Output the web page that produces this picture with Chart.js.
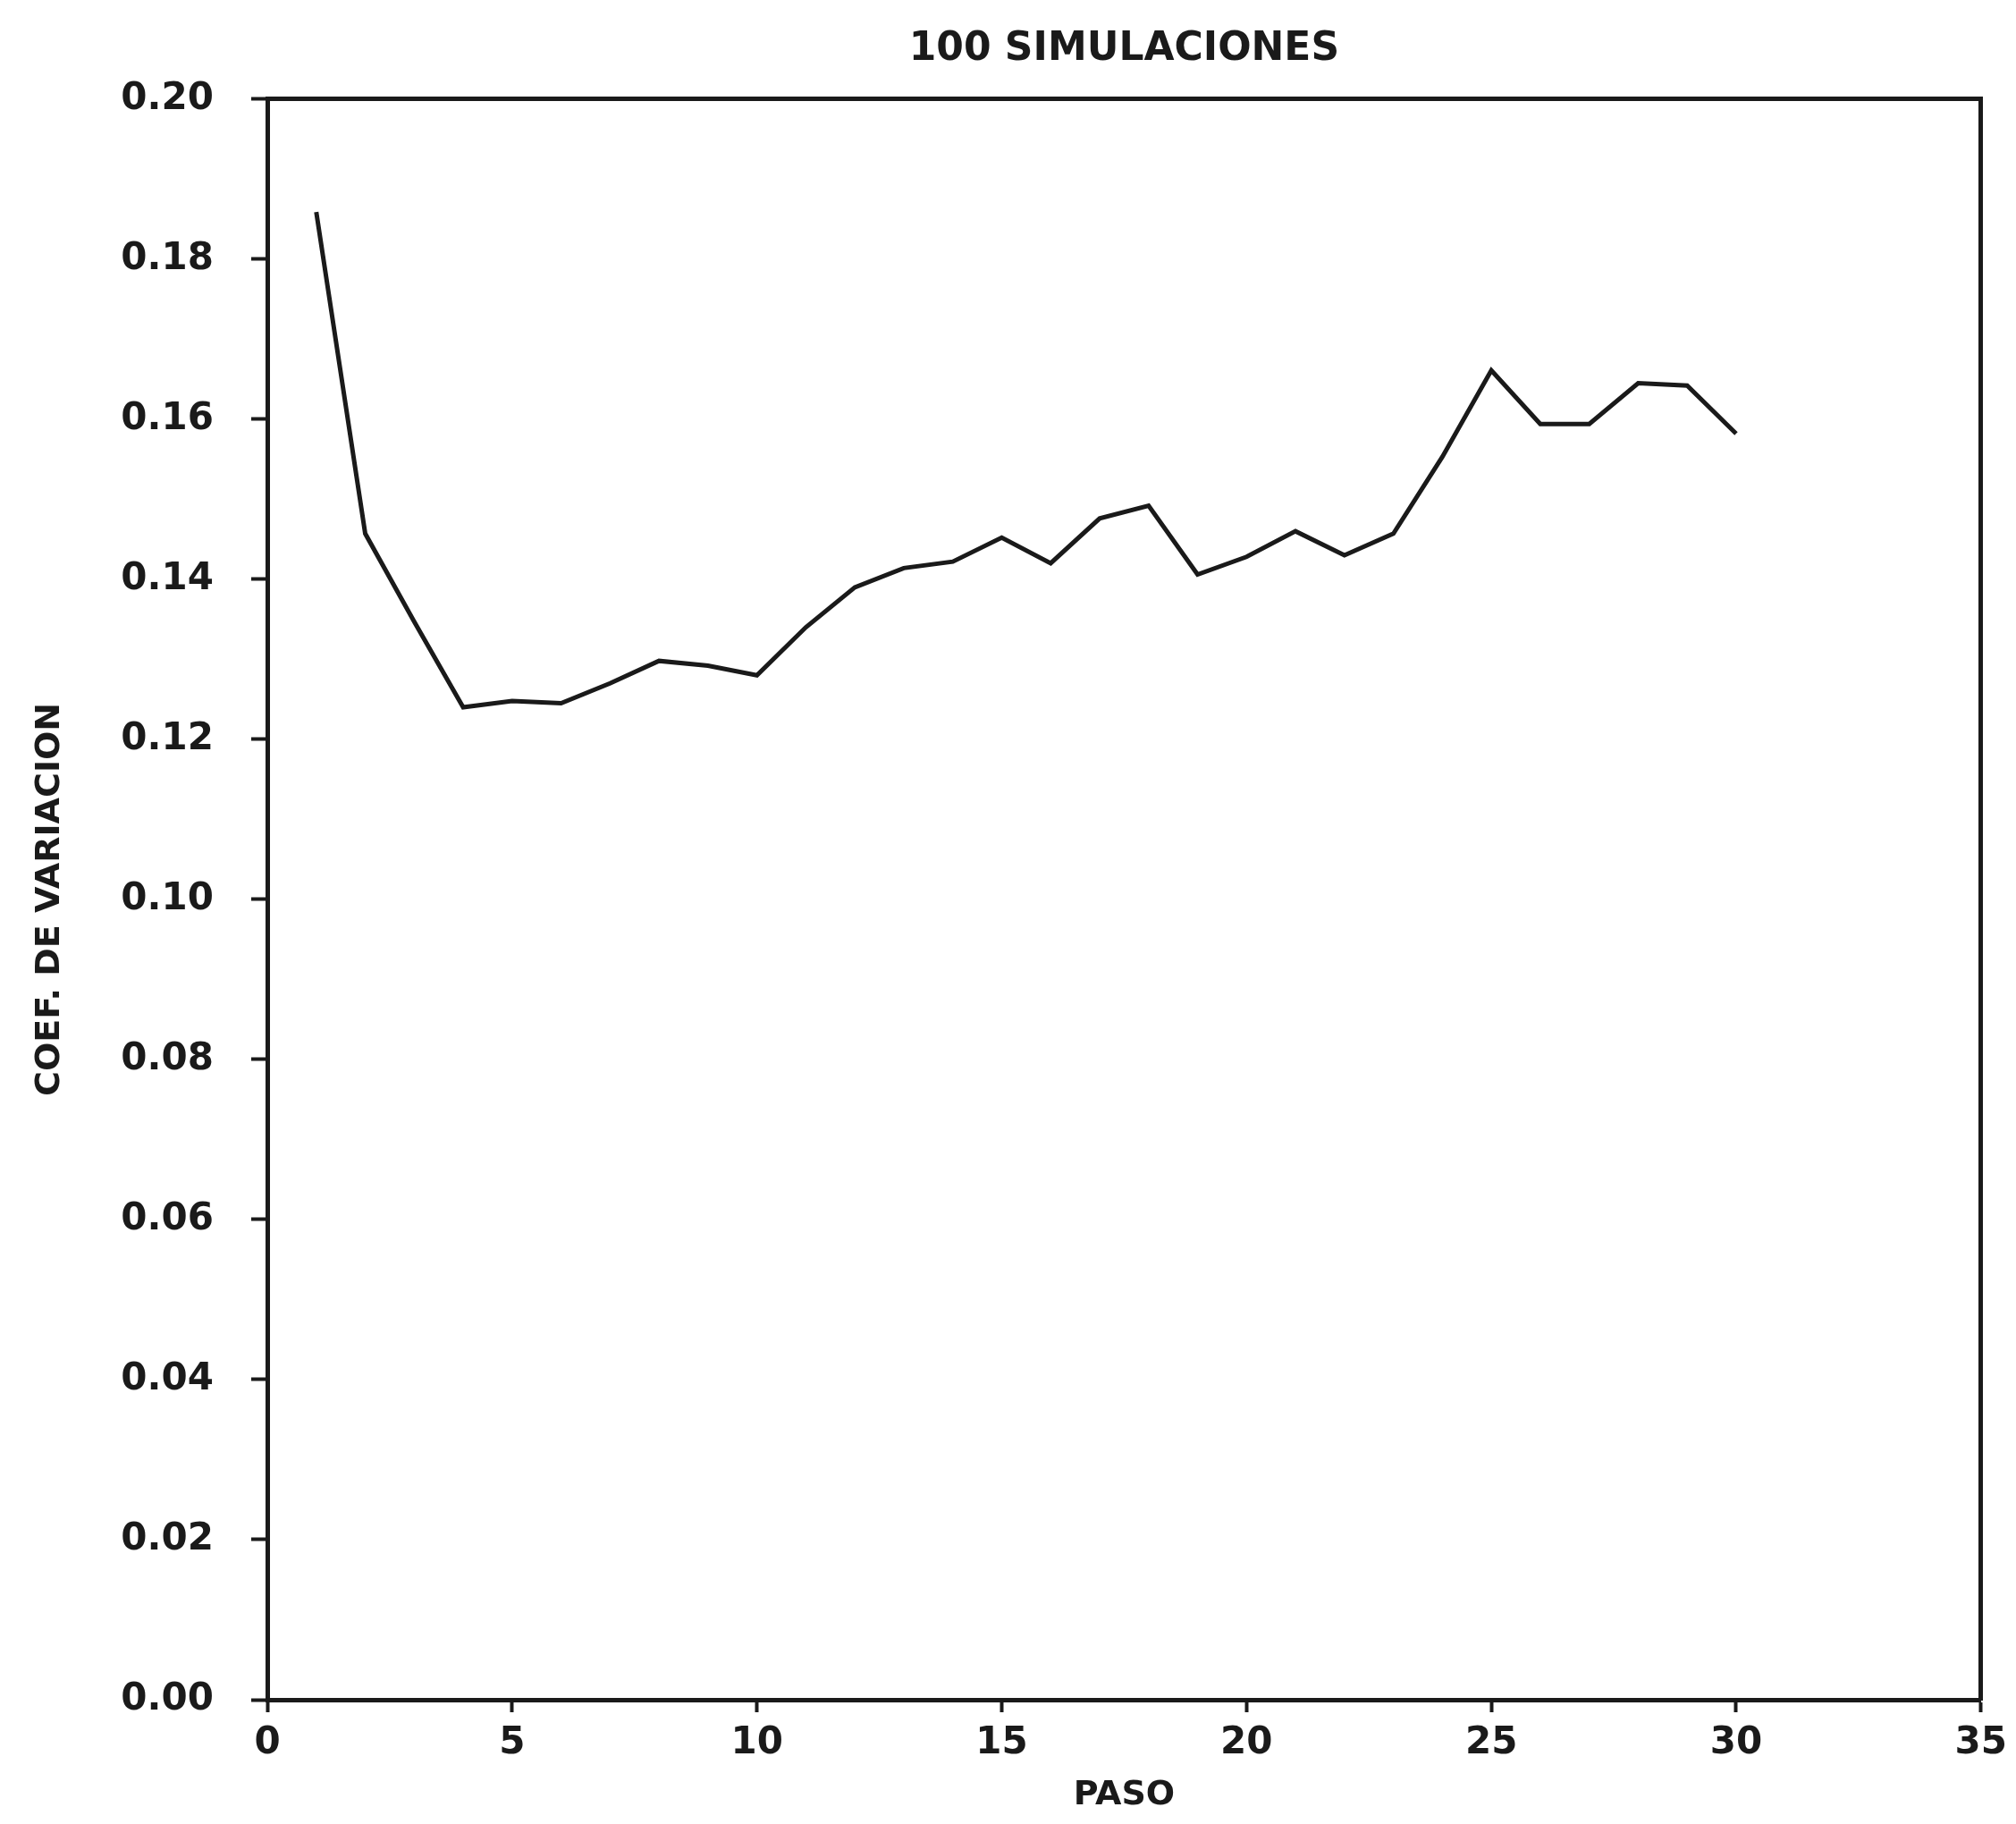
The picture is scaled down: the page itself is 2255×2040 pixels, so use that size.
<!DOCTYPE html>
<html>
<head>
<meta charset="utf-8">
<title>100 SIMULACIONES</title>
<script src="https://cdn.jsdelivr.net/npm/chart.js@4"></script>
<style>
  html, body { margin: 0; padding: 0; background: #fff; }
  canvas { display: block; }
</style>
</head>
<body>
<canvas id="cvChart" width="2255" height="2040" style="width:2255px;height:2040px"></canvas>
<script>
// pasos de la simulacion
const pasos = [1, 2, 3, 4, 5, 6, 7, 8, 9, 10,
               11, 12, 13, 14, 15, 16, 17, 18, 19, 20,
               21, 22, 23, 24, 25, 26, 27, 28, 29, 30];
// coeficiente de variacion
const coefVariacion = [0.1859, 0.1457, 0.1347, 0.1240, 0.1248, 0.1245, 0.1270, 0.1298, 0.1292, 0.1280,
                       0.1340, 0.1390, 0.1414, 0.1422, 0.1452, 0.1420, 0.1476, 0.1492, 0.1406, 0.1428,
                       0.1460, 0.1430, 0.1457, 0.1553, 0.1661, 0.1594, 0.1594, 0.1645, 0.1642, 0.1582];
const xTicks = [0, 5, 10, 15, 20, 25, 30, 35];
const yTicks = [0.00, 0.02, 0.04, 0.06, 0.08, 0.10, 0.12, 0.14, 0.16, 0.18, 0.20];

const FONT = "'DejaVu Sans', sans-serif";
const INK = '#1a1a1a';

Chart.defaults.font.family = FONT;
Chart.defaults.color = INK;

const ctx = document.getElementById('cvChart').getContext('2d');

new Chart(ctx, {
  type: 'line',
  data: {
    datasets: [{
      data: pasos.map((p, i) => ({ x: p, y: coefVariacion[i] })),
      borderColor: INK,
      borderWidth: 5,
      pointRadius: 0,
      tension: 0,
      fill: false
    }]
  },
  options: {
    responsive: false,
    animation: false,
    devicePixelRatio: 1,
    layout: { padding: 0 },
    plugins: {
      legend: { display: false },
      tooltip: { enabled: false },
      title: {
        display: true,
        fullSize: false,
        text: '100 SIMULACIONES',
        color: INK,
        font: { size: 44, weight: 'bold', family: FONT, lineHeight: 1.2 },
        padding: { top: 29, bottom: 29 }
      }
    },
    scales: {
      x: {
        type: 'linear',
        position: 'bottom',
        min: 0,
        max: 35,
        afterBuildTicks: (s) => { s.ticks = xTicks.map(v => ({ value: v })); },
        afterFit: (s) => { s.height = 139; },
        border: { display: true, color: INK, width: 5 },
        grid: { drawOnChartArea: false, drawTicks: true, tickLength: 14, tickWidth: 4, tickColor: INK },
        ticks: {
          padding: 10,
          maxRotation: 0,
          color: INK,
          font: { size: 42, weight: 'bold', family: FONT },
          callback: (v) => String(v)
        },
        title: {
          display: true,
          text: 'PASO',
          color: INK,
          font: { size: 38, weight: 'bold', family: FONT, lineHeight: 1.2 },
          padding: { top: 0, bottom: 9 }
        }
      },
      y: {
        type: 'linear',
        position: 'left',
        min: 0,
        max: 0.2,
        afterBuildTicks: (s) => { s.ticks = yTicks.map(v => ({ value: v })); },
        afterFit: (s) => { s.width = 299; },
        border: { display: true, color: INK, width: 5 },
        grid: { drawOnChartArea: false, drawTicks: true, tickLength: 18, tickWidth: 4, tickColor: INK },
        ticks: {
          padding: 42,
          color: INK,
          font: { size: 42, weight: 'bold', family: FONT },
          callback: (v) => Number(v).toFixed(2)
        },
        title: {
          display: true,
          text: 'COEF. DE VARIACION',
          color: INK,
          font: { size: 38, weight: 'bold', family: FONT, lineHeight: 1.2 },
          padding: { top: 33, bottom: 0 }
        }
      },
      // bordes superior y derecho del recuadro
      xTop: {
        type: 'linear',
        position: 'top',
        min: 0,
        max: 35,
        afterFit: (s) => { s.height = 0; },
        border: { display: true, color: INK, width: 5 },
        grid: { display: false },
        ticks: { display: false }
      },
      yRight: {
        type: 'linear',
        position: 'right',
        min: 0,
        max: 0.2,
        afterFit: (s) => { s.width = 29; },
        border: { display: true, color: INK, width: 5 },
        grid: { display: false },
        ticks: { display: false }
      }
    }
  }
});
</script>
</body>
</html>
